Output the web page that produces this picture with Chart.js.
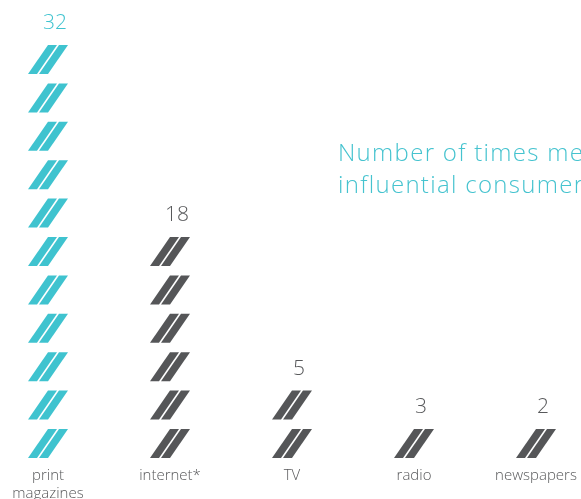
<!DOCTYPE html>
<html>
<head>
<meta charset="utf-8">
<script src="https://cdn.jsdelivr.net/npm/chart.js@4.4.0/dist/chart.umd.min.js"></script>
<style>
  html, body { margin: 0; padding: 0; background: #fff; overflow: hidden; }
  #wrap { position: relative; width: 581px; height: 499px; overflow: hidden; }
  #mediaChart { position: absolute; left: -13px; top: 0; }
  #title {
    position: absolute; left: 338px; top: 136px;
    color: #45c3cf; font: 300 24px 'Open Sans', sans-serif;
    letter-spacing: 1.3px;
    line-height: 32px; white-space: nowrap;
  }
</style>
</head>
<body>
<div id="wrap">
  <canvas id="mediaChart" width="610" height="512"></canvas>
  <div id="title">Number of times mentioned by<br>influential consumers</div>
</div>
<script>
// Chart data
const categories = [['print', 'magazines'], 'internet*', 'TV', 'radio', 'newspapers'];
const mentions = [32, 18, 5, 3, 2];

// Styles
const iconColors = ['#3fc3cf', '#555658', '#555658', '#555658', '#555658'];
const valueColors = ['#3fc3cf', '#58595b', '#58595b', '#58595b', '#58595b'];
const ICON_H = 29;        // height of one "//" icon
const ICON_PITCH = 38.4;  // vertical step between icons
const SLACK = 7;          // a full icon may stick out this much above the bar top

// draw one "//" icon, bottom edge at y = b
function drawIcon(ctx, cx, b) {
    [0, 11].forEach(dx => {
        ctx.beginPath();
        ctx.moveTo(cx - 20 + dx, b);
        ctx.lineTo(cx - 11 + dx, b);
        ctx.lineTo(cx + 9 + dx, b - ICON_H);
        ctx.lineTo(cx + dx, b - ICON_H);
        ctx.closePath();
        ctx.fill();
    });
}

// Plugin: fill each bar with stacked icons and put the value above
const slashIcons = {
    id: 'slashIcons',
    afterDatasetsDraw(chart) {
        const ctx = chart.ctx;
        const meta = chart.getDatasetMeta(0);
        meta.data.forEach((bar, i) => {
            const { x, y, base } = bar.getProps(['x', 'y', 'base'], true);
            let highest = base;

            ctx.save();
            ctx.fillStyle = iconColors[i];
            for (let k = 0; ; k++) {
                const bottom = base - k * ICON_PITCH;
                const top = bottom - ICON_H;
                if (top >= y - SLACK) {
                    drawIcon(ctx, x, bottom);
                    highest = top;
                } else {
                    // partial icon, cut at the bar top
                    if (bottom - y >= 6) {
                        ctx.save();
                        ctx.beginPath();
                        ctx.rect(x - 35, y, 70, bottom - y);
                        ctx.clip();
                        drawIcon(ctx, x, bottom);
                        ctx.restore();
                        highest = y;
                    }
                    break;
                }
            }
            ctx.restore();

            ctx.save();
            ctx.fillStyle = valueColors[i];
            ctx.font = "300 21px 'Open Sans', sans-serif";
            ctx.textAlign = 'center';
            ctx.textBaseline = 'alphabetic';
            ctx.fillText(String(mentions[i]), x + 7, highest - 16);
            ctx.restore();
        });
    }
};

const ctx = document.getElementById('mediaChart').getContext('2d');
new Chart(ctx, {
    type: 'bar',
    data: {
        labels: categories,
        datasets: [{
            label: 'Mentions',
            data: mentions,
            backgroundColor: 'rgba(0,0,0,0)',
            borderWidth: 0
        }]
    },
    options: {
        responsive: false,
        animation: false,
        layout: { padding: { top: 17, left: 0, right: 0, bottom: 0 } },
        plugins: {
            legend: { display: false },
            tooltip: { enabled: false }
        },
        scales: {
            x: {
                grid: { display: false, drawTicks: false },
                border: { display: false },
                ticks: {
                    color: '#58595b',
                    padding: 9,
                    maxRotation: 0,
                    font: { family: "'Open Sans', sans-serif", size: 15, weight: 300, lineHeight: 1.2 }
                }
            },
            y: {
                display: false,
                min: 0,
                max: 34
            }
        }
    },
    plugins: [slashIcons]
});
</script>
</body>
</html>
